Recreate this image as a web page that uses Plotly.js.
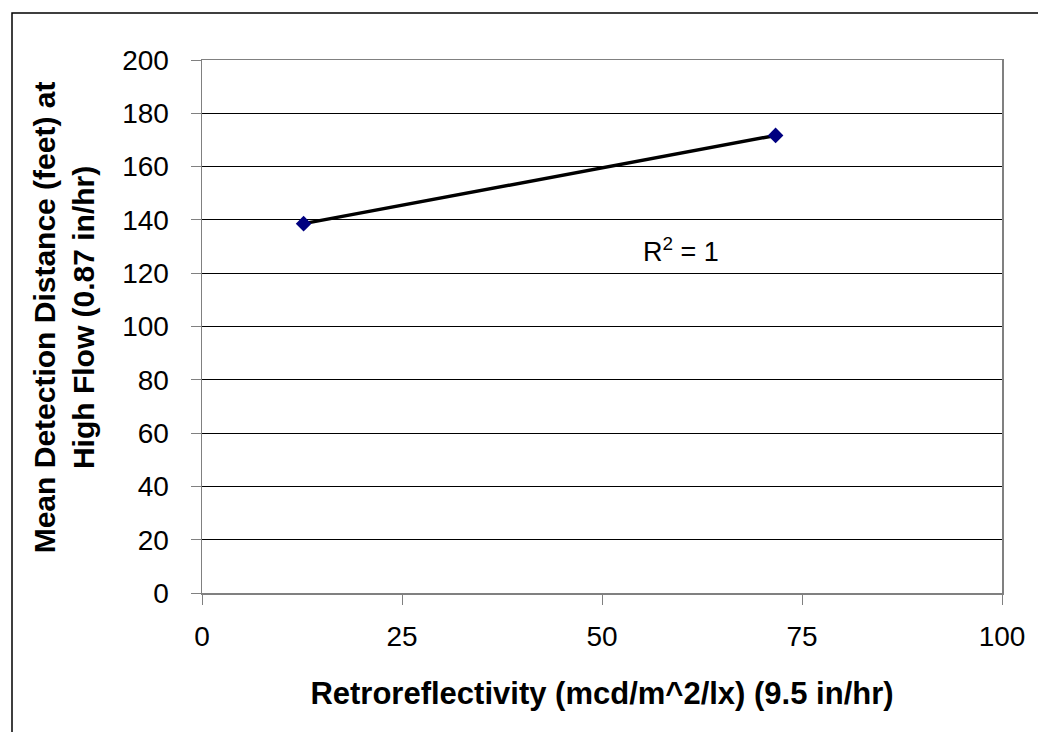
<!DOCTYPE html>
<html><head><meta charset="utf-8">
<script src="https://cdn.plot.ly/plotly-3.0.1.min.js"></script>
<style>body{margin:0;background:#fff}#chart{width:1038px;height:732px}</style>
</head><body><div id="chart"></div>
<script>
const retro = [12.7, 71.7];
const detection = [138.6, 171.7];
const xTicks = [0, 25, 50, 75, 100];
const yTicks = [0, 20, 40, 60, 80, 100, 120, 140, 160, 180, 200];
const rLabel = 'R<sup>2</sup> = 1';
const xTitle = 'Retroreflectivity (mcd/m^2/lx) (9.5 in/hr)';
const yTitle = 'Mean Detection Distance (feet) at<br>High Flow (0.87 in/hr)';

const traces = [
  {x: retro, y: detection, type: 'scatter', mode: 'lines', line: {color: '#000', width: 3.5}, hoverinfo: 'skip'},
  {x: retro, y: detection, type: 'scatter', mode: 'markers', marker: {symbol: 'diamond', size: 12, color: '#000080'}}
];

const layout = {
  width: 1038, height: 732, showlegend: false,
  paper_bgcolor: '#fff', plot_bgcolor: '#fff',
  font: {family: 'Arial, "Liberation Sans", sans-serif', color: '#000'},
  margin: {l: 202, r: 36, t: 60, b: 139},
  xaxis: {range: [0, 100], tickvals: xTicks, ticktext: xTicks.map(String), showgrid: false, zeroline: false,
    showline: true, linecolor: '#808080', linewidth: 1.5, mirror: true,
    ticks: 'outside', ticklen: 10, tickcolor: '#808080', tickfont: {size: 28}, ticklabelstandoff: 8,
    title: {text: '<b>' + xTitle + '</b>', font: {size: 31}, standoff: 31}},
  yaxis: {range: [0, 200], tickvals: yTicks, showgrid: true, gridcolor: '#000', gridwidth: 1, zeroline: false,
    showline: true, linecolor: '#808080', linewidth: 1.5, mirror: true,
    ticks: 'outside', ticklen: 10, tickcolor: '#808080', tickfont: {size: 28}, ticklabelstandoff: 16},
  annotations: [
    {x: 59.9, y: 128.6, xref: 'x', yref: 'y', text: rLabel, showarrow: false, font: {size: 27}, xanchor: 'center', yanchor: 'middle'},
    {x: -0.172, y: 0.518, xref: 'paper', yref: 'paper', text: '<b>' + yTitle + '</b>', textangle: -90, showarrow: false,
     font: {size: 30}, xanchor: 'center', yanchor: 'middle'}
  ],
  shapes: [
    {type: 'path', xref: 'paper', yref: 'paper',
     path: 'M ' + (-190/800) + ' ' + (-140/533) + ' L ' + (-190/800) + ' ' + (1 + 47/533) + ' L ' + (1 + 40/800) + ' ' + (1 + 47/533),
     line: {color: '#000', width: 1.5}}
  ]
};
Plotly.newPlot('chart', traces, layout, {displayModeBar: false, staticPlot: true});
</script></body></html>
